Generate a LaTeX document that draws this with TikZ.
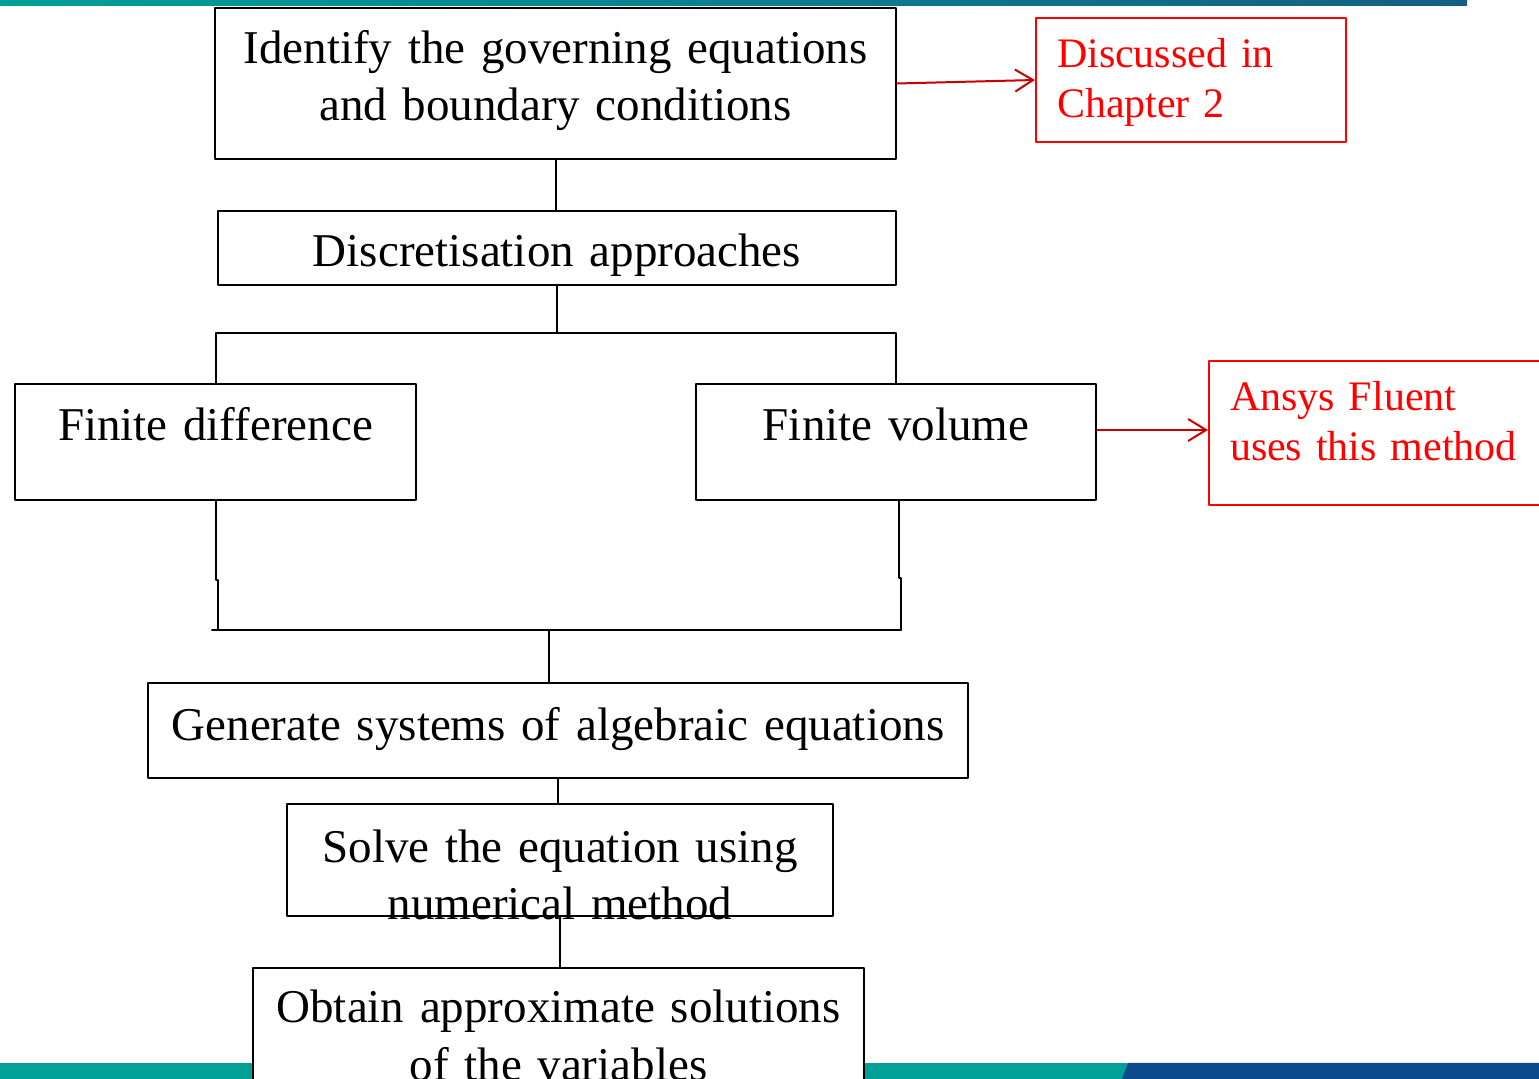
\documentclass[tikz,border=0pt]{standalone}
\usepackage{fontspec}
\setmainfont{Liberation Serif}
\usepackage{tikz}
\usetikzlibrary{arrows.meta}
\definecolor{barteal}{RGB}{0,160,150}
\definecolor{bardark}{RGB}{20,95,130}
\definecolor{barblue}{RGB}{12,74,140}
\definecolor{arrred}{RGB}{200,0,0}

\begin{document}
\begin{tikzpicture}[line cap=round,line join=round,>={Straight Barb[length=9pt,width=11pt]},x=0.5pt,y=-0.5pt,
  stepbox/.style={draw=black,fill=white,line width=1pt,inner sep=0pt,align=center,
    font=\fontsize{23.5}{28.5}\selectfont,anchor=north west},
  notebox/.style={draw=red,text=red,line width=1pt,inner xsep=10.5pt,inner ysep=0pt,align=left,
    font=\fontsize{21}{25}\selectfont,anchor=north west},
  conn/.style={line width=1pt,black},
  redarrow/.style={->,line width=1pt,arrred}]
      \useasboundingbox (0,0) rectangle (1539,1079);
      \shade[left color=barteal,right color=bardark] (0,0) rectangle (1467,6);
      \fill[barteal] (0,1063) rectangle (1128,1079);
      \fill[barblue] (1128,1063) -- (1539,1063) -- (1539,1079) -- (1122,1079) -- cycle;
      \node[stepbox,text width=340.5pt,text height=28pt,text depth=47.5pt] (govern) at (214,7)
        {Identify the governing equations\\and boundary conditions};
      \node[notebox,text width=134pt,text height=25pt,text depth=37pt] (chap) at (1035,17)
        {Discussed in\\Chapter 2};
      \node[stepbox,text width=339pt,text height=28pt,text depth=9pt] (discr) at (217,210)
        {Discretisation approaches};
      \node[stepbox,text width=200.5pt,text height=28.5pt,text depth=29.5pt] (fdiff) at (14,383)
        {Finite difference};
      \node[stepbox,text width=200pt,text height=28.5pt,text depth=29.5pt] (fvol) at (695,383)
        {Finite volume};
      \node[notebox,text width=148.5pt,text height=25pt,text depth=47pt] (fluent) at (1208,360)
        {Ansys Fluent\\uses this method};
      \node[stepbox,text width=410pt,text height=29pt,text depth=18.5pt] (gener) at (147,682)
        {Generate systems of algebraic equations};
      \node[stepbox,text width=273pt,text height=29.5pt,text depth=26.5pt] (solve) at (286,803)
        {Solve the equation using\\numerical method};
      \node[stepbox,text width=305.5pt,text height=27.5pt,text depth=60pt] (obtain) at (252,967)
        {Obtain approximate solutions\\of the variables};
      \coordinate (split) at (555,333);
      \coordinate (jl) at (218,630);
      \coordinate (jr) at (901,630);
      \coordinate (jm) at (549,630);
      \draw[conn] (govern.south) -- (govern.south |- discr.north);
      \draw[conn] (discr.south) -- (discr.south |- split);
      \draw[conn] (fdiff.north) -- (fdiff.north |- split) -- (fvol.north |- split) -- (fvol.north);
      \draw[conn] (fdiff.south) -- (fdiff.south |- 0,580) -| (jl);
      \draw[conn] ([xshift=1.5pt]fvol.south) -- ([xshift=1.5pt]fvol.south |- 0,578) -| (jr);
      \draw[conn] ([xshift=-3pt]jl) -- (jr);
      \draw[conn] (jm) -- (jm |- gener.north);
      \draw[conn] (gener.south) -- (gener.south |- solve.north);
      \draw[conn] (solve.south) -- (solve.south |- obtain.north);
      \draw[redarrow] (govern.east) -- (chap.west);
      \draw[redarrow] ([yshift=1.5pt]fvol.east |- fluent.west) -- ([yshift=1.5pt]fluent.west);
    \end{tikzpicture}
\end{document}
